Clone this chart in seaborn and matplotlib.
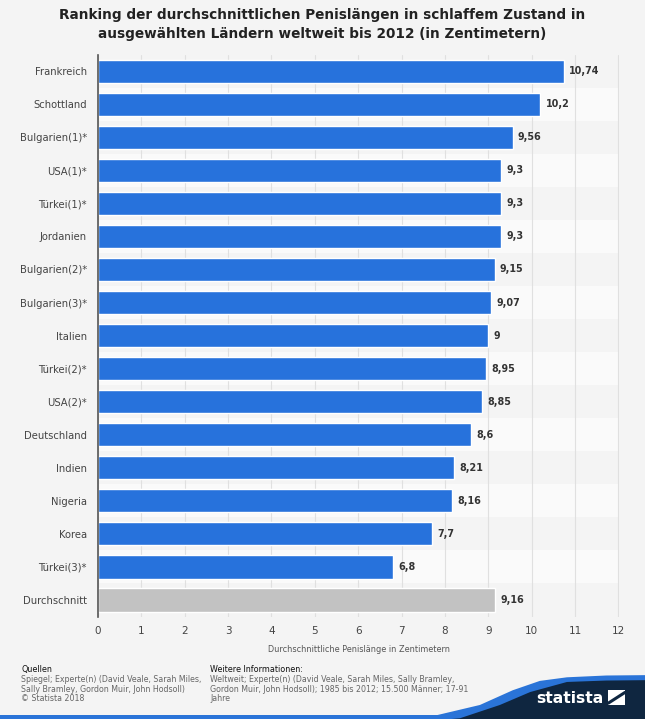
import matplotlib
matplotlib.use("Agg")
import matplotlib.pyplot as plt
import seaborn as sns
import pandas as pd
from matplotlib.patches import Polygon, Rectangle
from matplotlib.lines import Line2D

categories = ["Frankreich", "Schottland", "Bulgarien(1)*", "USA(1)*", "Türkei(1)*",
              "Jordanien", "Bulgarien(2)*", "Bulgarien(3)*", "Italien", "Türkei(2)*",
              "USA(2)*", "Deutschland", "Indien", "Nigeria", "Korea", "Türkei(3)*",
              "Durchschnitt"]
values = [10.74, 10.2, 9.56, 9.3, 9.3, 9.3, 9.15, 9.07, 9.0, 8.95, 8.85, 8.6,
          8.21, 8.16, 7.7, 6.8, 9.16]
value_labels = ["10,74", "10,2", "9,56", "9,3", "9,3", "9,3", "9,15", "9,07", "9",
                "8,95", "8,85", "8,6", "8,21", "8,16", "7,7", "6,8", "9,16"]
xticks = list(range(0, 13))

BG = "#f4f4f4"
BLUE = "#2772dc"
GREY = "#c2c2c2"
NAVY = "#0f2640"

sns.set_theme(style="white")
plt.rcParams["font.family"] = ["DejaVu Sans"]

df = pd.DataFrame({"Land": categories, "Wert": values})
colors = [BLUE] * (len(categories) - 1) + [GREY]

fig = plt.figure(figsize=(6.45, 7.19), dpi=100, facecolor=BG)
ax = fig.add_axes([0.152, 0.1425, 0.808, 0.7815])
ax.set_facecolor(BG)

# alternating row bands
for i in range(len(categories)):
    if i % 2 == 1:
        ax.axhspan(i - 0.5, i + 0.5, color="#fafafa", zorder=0, lw=0)

sns.barplot(data=df, x="Wert", y="Land", hue="Land", palette=colors, legend=False,
            orient="h", width=0.7, ax=ax, zorder=3, saturation=1)

ax.set_xlim(0, 12.02)
ax.set_ylim(len(categories) - 0.5, -0.5)
ax.set_xticks(xticks)
ax.set_xticklabels([str(t) for t in xticks])
ax.grid(axis="x", color="#e0e0e0", lw=0.8, linestyle="-", zorder=1)
ax.set_axisbelow(True)
for s in ["top", "right", "bottom"]:
    ax.spines[s].set_visible(False)
ax.spines["left"].set_color("#555555")
ax.spines["left"].set_linewidth(1.2)
ax.spines["left"].set_zorder(5)
ax.tick_params(axis="both", length=0, colors="#444444")
ax.tick_params(axis="x", labelsize=7.5, pad=7)
ax.tick_params(axis="y", labelsize=7.2, pad=8)
ax.set_ylabel("")
ax.set_xlabel("Durchschnittliche Penislänge in Zentimetern", fontsize=5.9,
              color="#555555", labelpad=6)

for i, (v, lab) in enumerate(zip(values, value_labels)):
    ax.text(v + 0.12, i, lab, va="center", ha="left", fontsize=6.9,
            fontweight="bold", color="#333333", zorder=6)

fig.text(0.5, 0.9895, "Ranking der durchschnittlichen Penislängen in schlaffem Zustand in\n"
         "ausgewählten Ländern weltweit bis 2012 (in Zentimetern)",
         ha="center", va="top", fontsize=9.8, fontweight="bold", color="#222222",
         linespacing=1.5)

# footer
fig.text(0.033, 0.0755, "Quellen", fontsize=5.8, color="#111111", va="top")
fig.text(0.033, 0.0615, "Spiegel; Experte(n) (David Veale, Sarah Miles,\n"
         "Sally Bramley, Gordon Muir, John Hodsoll)\n© Statista 2018",
         fontsize=5.7, color="#666666", va="top", linespacing=1.12)
fig.text(0.326, 0.0755, "Weitere Informationen:", fontsize=5.8, color="#111111", va="top")
fig.text(0.326, 0.0615, "Weltweit; Experte(n) (David Veale, Sarah Miles, Sally Bramley,\n"
         "Gordon Muir, John Hodsoll); 1985 bis 2012; 15.500 Männer; 17-91\nJahre",
         fontsize=5.7, color="#666666", va="top", linespacing=1.12)

# statista logo band
fig.patches.append(Rectangle((0, 0), 1, 0.005, transform=fig.transFigure,
                             facecolor="#2a74d8", edgecolor="none"))
blue_top = [[0.60, 0.0], [0.671, 0.004], [0.744, 0.0195], [0.795, 0.040],
            [0.837, 0.053], [0.879, 0.058], [0.94, 0.0605], [1.0, 0.061], [1.0, 0.0]]
fig.patches.append(Polygon(blue_top, closed=True, transform=fig.transFigure,
                           facecolor="#2a74d8", edgecolor="none"))
dark_top = [[0.70, 0.0], [0.713, 0.001], [0.775, 0.0195], [0.822, 0.0375],
            [0.879, 0.0515], [0.94, 0.0535], [1.0, 0.054], [1.0, 0.0]]
fig.patches.append(Polygon(dark_top, closed=True, transform=fig.transFigure,
                           facecolor=NAVY, edgecolor="none"))
fig.text(0.936, 0.029, "statista", fontsize=11.2, fontweight="bold", color="white",
         ha="right", va="center")
fig.patches.append(Rectangle((0.943, 0.019), 0.026, 0.021, transform=fig.transFigure,
                             facecolor="white", edgecolor="none"))
fig.lines.append(Line2D([0.943, 0.969], [0.022, 0.037], transform=fig.transFigure,
                       color=NAVY, lw=2.2))

fig.savefig("out.png", dpi=100, facecolor=BG)
